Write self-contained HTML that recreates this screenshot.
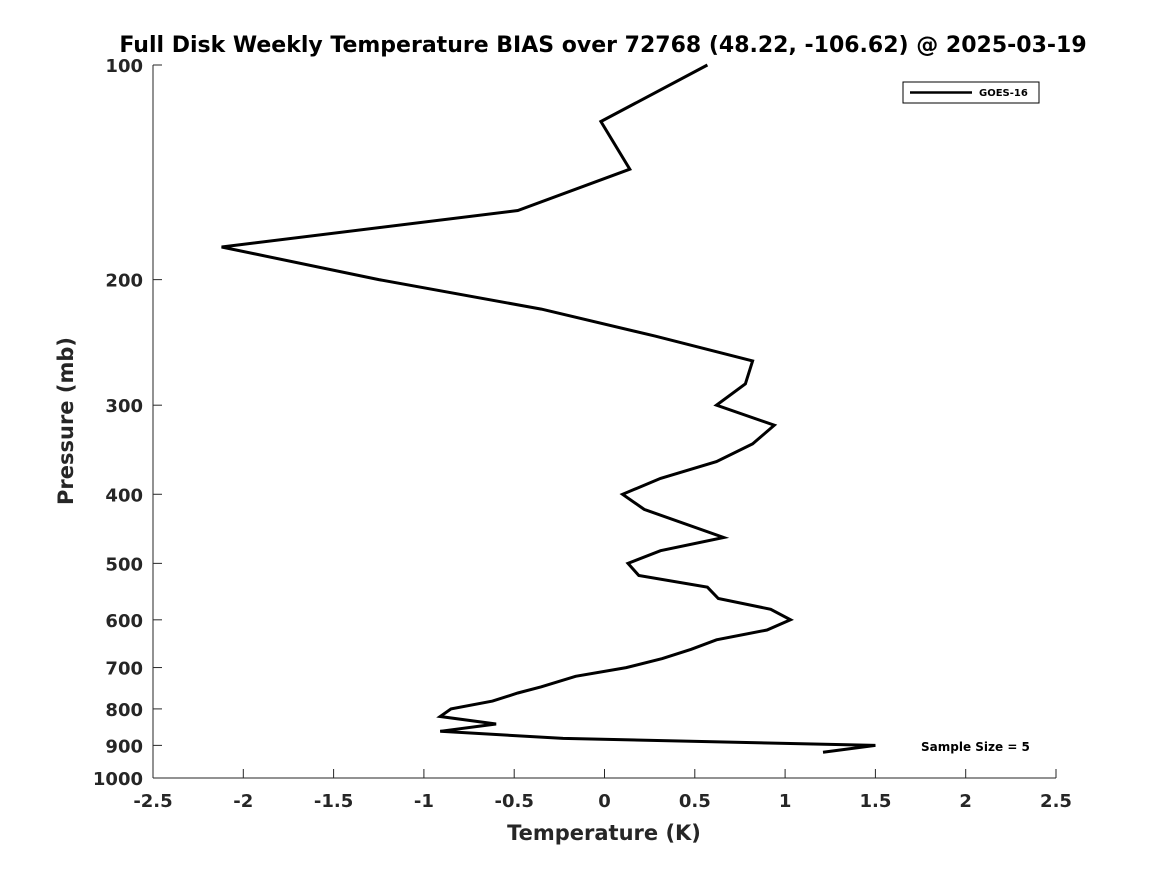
<!DOCTYPE html>
<html><head><meta charset="utf-8"><style>
body{margin:0;background:#fff;}
svg{display:block;font-family:"DejaVu Sans","Liberation Sans",sans-serif;}
</style></head><body>
<svg id="chart" width="1167" height="875" viewBox="0 0 1167 875">
<rect width="1167" height="875" fill="#fff"/>
<text x="603" y="52" text-anchor="middle" font-size="22" font-weight="bold" fill="#000">Full Disk Weekly Temperature BIAS over 72768 (48.22, -106.62) @ 2025-03-19</text>
<g id="axes"></g>
<g id="series"></g>
<g>
<rect x="903" y="82" width="136" height="21" fill="#fff" stroke="#000" stroke-width="1"/>
<line x1="910" y1="92.5" x2="972" y2="92.5" stroke="#000" stroke-width="2.5"/>
<text x="979" y="96" font-size="10" font-weight="bold">GOES-16</text>
</g>
<text x="921" y="751" font-size="12" font-weight="bold">Sample Size = 5</text>
<text x="604" y="840" text-anchor="middle" font-size="21" font-weight="bold" fill="#262626">Temperature (K)</text>
<text transform="translate(73,421) rotate(-90)" text-anchor="middle" font-size="21" font-weight="bold" fill="#262626">Pressure (mb)</text>
</svg>
<script>
const temps=[0.57,-0.02,0.14,-0.48,-2.12,-1.25,-0.35,0.28,0.82,0.78,0.62,0.94,0.82,0.62,0.31,0.10,0.22,0.66,0.31,0.13,0.19,0.57,0.63,0.92,1.03,0.90,0.62,0.48,0.32,0.12,-0.16,-0.35,-0.48,-0.62,-0.85,-0.91,-0.60,-0.91,-0.23,1.50,1.21];
const pressures=[100,120,140,160,180,200,220,240,260,280,300,320,340,360,380,400,420,460,480,500,520,540,560,580,600,620,640,660,680,700,720,745,760,780,800,820,840,860,880,900,920];
const xTicks=[-2.5,-2,-1.5,-1,-0.5,0,0.5,1,1.5,2,2.5];
const xTickLabels=["-2.5","-2","-1.5","-1","-0.5","0","0.5","1","1.5","2","2.5"];
const yTicks=[100,200,300,400,500,600,700,800,900,1000];
const yTickLabels=["100","200","300","400","500","600","700","800","900","1000"];
const L=153,R=1056,T=65,B=778;
const xs=v=>L+(v+2.5)/5*(R-L);
const ys=p=>T+(Math.log10(p)-2)*(B-T);
const NS="http://www.w3.org/2000/svg";
const ax=document.getElementById('axes');
function mk(tag,attrs,parent){const e=document.createElementNS(NS,tag);for(const k in attrs)e.setAttribute(k,attrs[k]);parent.appendChild(e);return e;}
const xl=mk('line',{x1:L,y1:B,x2:R,y2:B,stroke:'#262626','stroke-width':1},ax);


const yl=mk('line',{x1:L,y1:T,x2:L,y2:B,stroke:'#262626','stroke-width':1},ax);


xTicks.forEach((v,i)=>{
 const x=xs(v);
 mk('line',{x1:x,y1:B,x2:x,y2:B-9,stroke:'#262626'},ax);
 const t=mk('text',{x:x,y:B+29,'text-anchor':'middle','font-size':18,'font-weight':'bold',fill:'#262626'},ax);
 t.textContent=xTickLabels[i];
 
 
});
yTicks.forEach((p,i)=>{
 const y=ys(p);
 mk('line',{x1:L,y1:y,x2:L+9,y2:y,stroke:'#262626'},ax);
 const t=mk('text',{x:L-10,y:y+7,'text-anchor':'end','font-size':18,'font-weight':'bold',fill:'#262626'},ax);
 t.textContent=yTickLabels[i];
 
 
});
const pts=temps.map((v,i)=>xs(v).toFixed(1)+','+ys(pressures[i]).toFixed(1)).join(' ');
const pl=mk('polyline',{points:pts,fill:'none',stroke:'#000','stroke-width':3,'stroke-linejoin':'miter'},document.getElementById('series'));


</script>
</body></html>
